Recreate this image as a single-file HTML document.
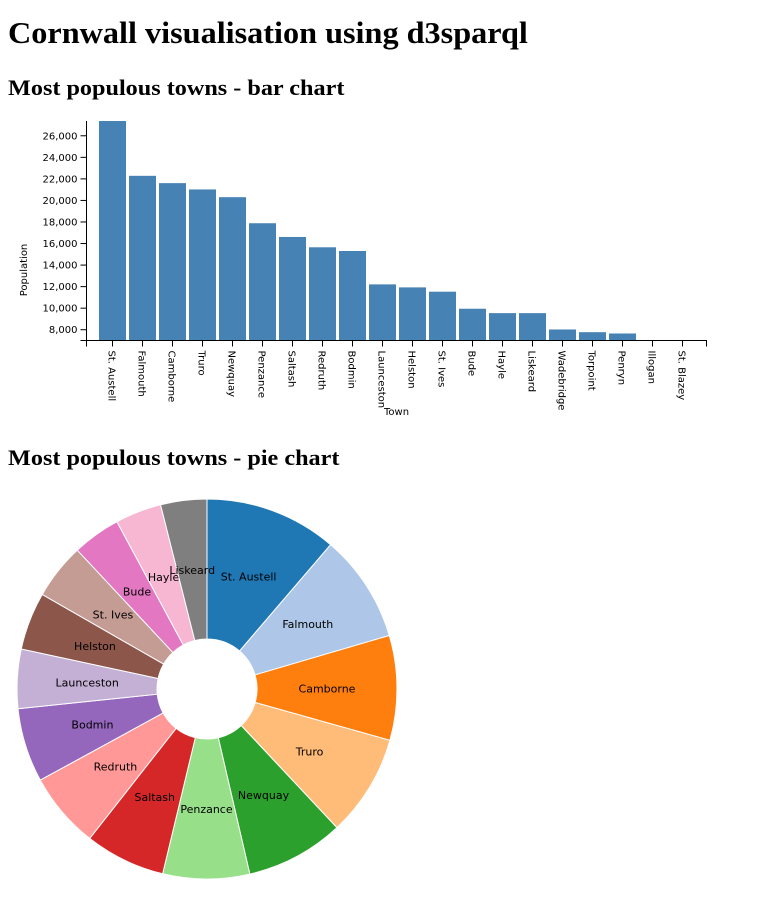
<!DOCTYPE html>
<html><head><meta charset="utf-8"><style>
body{margin:0;background:#fff;width:764px;height:902px;overflow:hidden;position:relative;font-family:"DejaVu Sans","Liberation Sans",sans-serif}
h1{position:absolute;left:8px;top:15px;margin:0;font:bold 31px "Liberation Serif",serif;white-space:nowrap;transform-origin:0 0;transform:scaleX(1.04)}
h2{position:absolute;left:8px;margin:0;font:bold 22px "Liberation Serif",serif;white-space:nowrap;transform-origin:0 0;transform:scaleX(1.1)}
svg{position:absolute;left:0;top:0}
svg text{font-family:"DejaVu Sans","Liberation Sans",sans-serif}
</style></head><body>
<h1>Cornwall visualisation using d3sparql</h1>
<h2 style="top:75px">Most populous towns - bar chart</h2>
<h2 style="top:445px">Most populous towns - pie chart</h2>
<svg id="bar" width="764" height="430"></svg>
<svg id="pie" width="420" height="902"></svg>
<script>
const towns=["St. Austell","Falmouth","Camborne","Truro","Newquay","Penzance","Saltash","Redruth","Bodmin","Launceston","Helston","St. Ives","Bude","Hayle","Liskeard","Wadebridge","Torpoint","Penryn","Illogan","St. Blazey"];
const population=[27372,22284,21605,21019,20302,17884,16609,15651,15307,12209,11930,11530,9948,9540,9540,8023,7772,7651,5500,4800];
const yTicks=[8000,10000,12000,14000,16000,18000,20000,22000,24000,26000];
const pieColors=["#1f77b4","#aec7e8","#ff7f0e","#ffbb78","#2ca02c","#98df8a","#d62728","#ff9896","#9467bd","#c5b0d5","#8c564b","#c49c94","#e377c2","#f7b6d2","#7f7f7f"];
const NS="http://www.w3.org/2000/svg";
function mk(p,t,a,txt){const e=document.createElementNS(NS,t);for(const k in a)e.setAttribute(k,a[k]);if(txt!=null)e.textContent=txt;p.appendChild(e);return e;}
// bar chart
const bar=document.getElementById('bar');
const yMin=7000,yMax=27372,y0=340.5,yTop=121;
const y=v=>y0-(v-yMin)/(yMax-yMin)*(y0-yTop);
const axL=86.5,axR=706.5,step=30,x0=97.5;
const xc=i=>x0+i*step+15;
towns.forEach((t,i)=>{
  const h=Math.max(0,y0-y(population[i]));
  if(h>0){const r=mk(bar,'rect',{x:x0+i*step+1.5,y:y0-h,width:27,height:h,fill:'steelblue'});
  
  }
  mk(bar,'line',{x1:xc(i),x2:xc(i),y1:y0,y2:y0+6,stroke:'#000'});
  const lb=mk(bar,'text',{transform:`translate(${xc(i)-4},${y0+10}) rotate(90)`,'font-size':'10'},t);
  
  
});
yTicks.forEach(v=>{
  mk(bar,'line',{x1:axL-6,x2:axL,y1:y(v),y2:y(v),stroke:'#000'});
  const lb=mk(bar,'text',{x:axL-9,y:y(v)+3.5,'text-anchor':'end','font-size':'10'},v.toLocaleString('en-US'));
  
  
});
mk(bar,'path',{d:`M${axL-6},${y0}H${axL}V${yTop}`,fill:'none',stroke:'#000'});
mk(bar,'path',{d:`M${axL},${y0+6}V${y0}H${axR}V${y0+6}`,fill:'none',stroke:'#000'});
const yt=mk(bar,'text',{transform:'translate(27,270) rotate(-90)','text-anchor':'middle','font-size':'10'},'Population');

const xt=mk(bar,'text',{x:384,y:415,'font-size':'10'},'Town');

// pie chart
const pie=document.getElementById('pie');
const cx=207,cy=689,R=190,r0=50;
const vals=population.slice(0,15),sum=vals.reduce((a,b)=>a+b,0);
let a=0;
vals.forEach((v,i)=>{
  const a1=a+v/sum*2*Math.PI;
  const P=(ang,rad)=>[cx+rad*Math.sin(ang),cy-rad*Math.cos(ang)];
  const [x1,y1]=P(a,R),[x2,y2]=P(a1,R),[x3,y3]=P(a1,r0),[x4,y4]=P(a,r0);
  const lg=(a1-a)>Math.PI?1:0;
  const p=mk(pie,'path',{d:`M${x1},${y1}A${R},${R} 0 ${lg} 1 ${x2},${y2}L${x3},${y3}A${r0},${r0} 0 ${lg} 0 ${x4},${y4}Z`,fill:pieColors[i],stroke:'#fff','stroke-width':'1'});
  
  
  const [lx,ly]=P((a+a1)/2,(R+r0)/2);
  const t=mk(pie,'text',{x:lx,y:ly+4,'text-anchor':'middle','font-size':'11'},towns[i]);
  
  
  a=a1;
});
</script>
</body></html>
